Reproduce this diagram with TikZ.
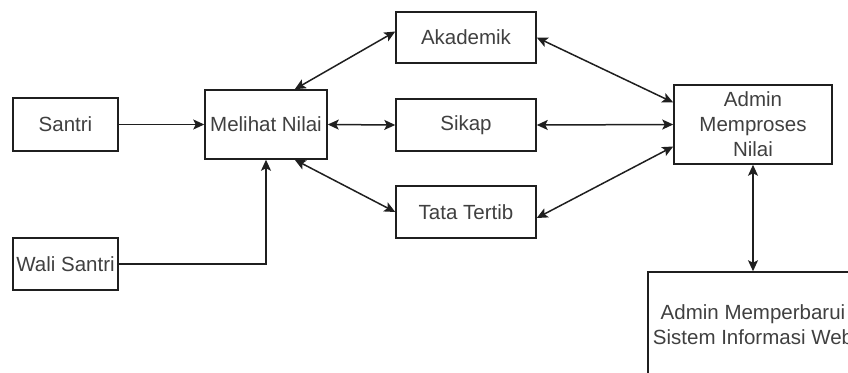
\documentclass[tikz,border=0pt]{standalone}
\usepackage{fontspec}
\setmainfont{Liberation Sans}
\usetikzlibrary{arrows.meta}
\begin{document}
\begin{tikzpicture}[x=1pt,y=-1pt,
  box/.style={draw=black!88, line width=1.5pt, fill=white, inner sep=0pt,
    text=black!75, font=\fontsize{20.5}{25}\selectfont, align=center},
  tip/.tip={Stealth[length=11pt,width=10pt,inset=2.5pt]},
  link/.style={line width=1.5pt, draw=black!88, -tip},
  both/.style={line width=1.5pt, draw=black!88, tip-tip}]
\useasboundingbox (0,0) rectangle (848,372);
\clip (0,0) rectangle (848,372);

% actors and pages
\node[box, minimum width=105pt, minimum height=53pt] (santri) at (65.5,124.5) {Santri};
\node[box, minimum width=105pt, minimum height=52pt] (wali) at (65.5,264) {Wali Santri};
\node[box, minimum width=122pt, minimum height=69pt] (melihat) at (266,124.5) {Melihat Nilai};
\node[box, minimum width=140pt, minimum height=51pt] (akademik) at (466,37.5) {Akademik};
\node[box, minimum width=140pt, minimum height=52pt] (sikap) at (466,125) {Sikap};
\node[box, minimum width=140pt, minimum height=52pt] (tata) at (466,212) {Tata Tertib};
\node[box, minimum width=158pt, minimum height=79pt] (admin) at (753,124.5) {Admin\\Memproses\\Nilai};
\node[box, minimum width=210pt, minimum height=106pt] (update) at (753,325) {Admin Memperbarui\\Sistem Informasi Web};

% flows
\draw[link] (santri.east) -- (melihat.west);
\draw[link] (wali.east) -| (melihat.south);
\draw[both] ([xshift=-33pt]melihat.north east) -- ([yshift=6pt]akademik.west);
\draw[both] (melihat.east) -- (sikap.west);
\draw[both] ([xshift=-33pt]melihat.south east) -- (tata.west);
\draw[both] (akademik.east) -- ([yshift=22pt]admin.west);
\draw[both] (sikap.east) -- (admin.west);
\draw[both] ([yshift=-6pt]tata.east) -- ([yshift=-22pt]admin.west);
\draw[both] (admin.south) -- (update.north);
\end{tikzpicture}
\end{document}
